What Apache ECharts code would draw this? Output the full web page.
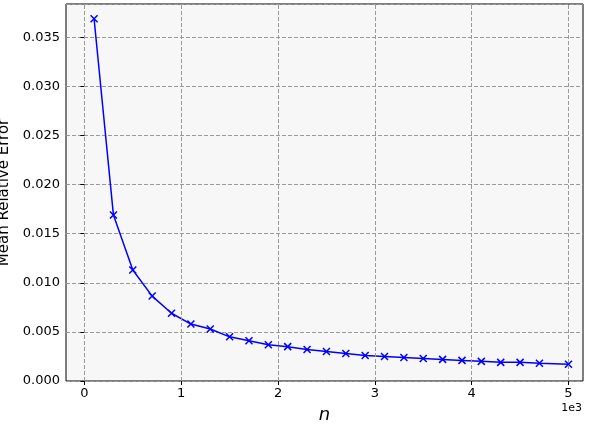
<!DOCTYPE html>
<html>
<head>
<meta charset="utf-8">
<script src="https://cdn.jsdelivr.net/npm/echarts@6/dist/echarts.min.js"></script>
<style>html,body{margin:0;padding:0;background:#fff}#chart{width:594px;height:424px}</style>
</head>
<body>
<div id="chart"></div>
<script>
var nValues = [100, 300, 500, 700, 900, 1100, 1300, 1500, 1700, 1900, 2100, 2300, 2500,
  2700, 2900, 3100, 3300, 3500, 3700, 3900, 4100, 4300, 4500, 4700, 5000];
var errors = [0.0369, 0.0169, 0.0113, 0.00865, 0.0069, 0.0058, 0.0053, 0.0045, 0.0041,
  0.0037, 0.0035, 0.0032, 0.0030, 0.0028, 0.0026, 0.0025, 0.0024, 0.0023, 0.0022,
  0.0021, 0.0020, 0.0019, 0.0019, 0.0018, 0.0017];
var xTicks = [0, 1000, 2000, 3000, 4000, 5000];

var chart = echarts.init(document.getElementById('chart'));
var pts = nValues.map(function (n, i) { return [n, errors[i]]; });
var font = 'DejaVu Sans';

chart.setOption({
  animation: false,
  grid: { left: 66, right: 11, top: 4, bottom: 43, show: true, backgroundColor: '#f7f7f7',
    borderColor: '#000', borderWidth: 1, outerBoundsMode: 'none', containLabel: false },
  xAxis: {
    type: 'value', min: -190, max: 5150,
    axisLine: { show: false },
    splitLine: { show: false },
    axisTick: { show: true, customValues: xTicks, length: 4, lineStyle: { color: '#000' } },
    axisLabel: { customValues: xTicks, formatter: function (v) { return v / 1000; },
      color: '#000', fontFamily: font, fontSize: 13, margin: 6 },
    name: 'n', nameLocation: 'middle', nameGap: 25,
    nameTextStyle: { fontStyle: 'italic', fontSize: 18, fontFamily: font, color: '#000' }
  },
  yAxis: {
    type: 'value', min: 0, max: 0.0384, interval: 0.005,
    axisLine: { show: false },
    axisTick: { show: true, length: 4, lineStyle: { color: '#000' } },
    splitLine: { show: true, lineStyle: { color: '#999', type: 'dashed', width: 1 } },
    axisLabel: { formatter: function (v) { return v.toFixed(3); }, color: '#000',
      fontFamily: font, fontSize: 13, margin: 6, showMaxLabel: false },
    name: 'Mean Relative Error', nameLocation: 'middle', nameGap: 52,
    nameTextStyle: { fontSize: 15, fontFamily: font, color: '#000' }
  },
  graphic: [{ type: 'text', right: 12, top: 403,
    style: { text: '1e3', fontSize: 11, fontFamily: font, fill: '#000' } }],
  series: [{
    type: 'line', data: pts, symbol: 'path://M0,0L10,10M10,0L0,10', symbolSize: 7,
    itemStyle: { color: 'none', borderColor: '#0000ff', borderWidth: 1.5 },
    lineStyle: { color: '#0000ff', width: 1.5 },
    markLine: {
      silent: true, symbol: 'none', label: { show: false },
      lineStyle: { color: '#999', type: 'dashed', width: 1 },
      data: xTicks.map(function (v) { return { xAxis: v }; })
    }
  }]
});
</script>
</body>
</html>
